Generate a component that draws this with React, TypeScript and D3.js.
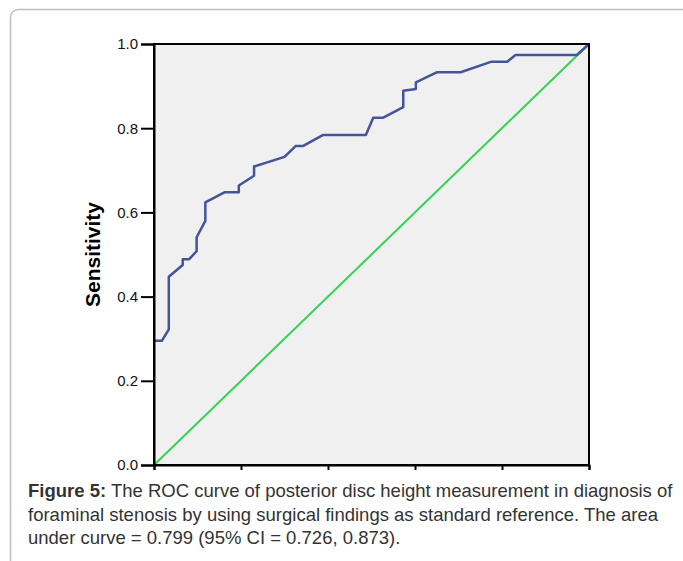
import React, { useEffect, useRef } from 'react';
import * as d3 from 'd3';

// ROC curve points
const fpr = [0, 0.018, 0.034, 0.034, 0.066, 0.066, 0.081, 0.098, 0.098, 0.118, 0.118, 0.163, 0.195, 0.195, 0.23, 0.23, 0.3, 0.326, 0.343, 0.389, 0.487, 0.504, 0.527, 0.573, 0.573, 0.602, 0.602, 0.651, 0.705, 0.776, 0.812, 0.831, 0.972, 1];
const sensitivity = [0.295, 0.295, 0.322, 0.447, 0.475, 0.489, 0.489, 0.508, 0.541, 0.58, 0.624, 0.648, 0.648, 0.664, 0.687, 0.709, 0.732, 0.758, 0.758, 0.784, 0.784, 0.825, 0.825, 0.85, 0.889, 0.893, 0.909, 0.933, 0.933, 0.958, 0.958, 0.974, 0.974, 1];
const referenceLine = [0, 1];
const tickValues = [0, 0.2, 0.4, 0.6, 0.8, 1.0];

const yLabel = 'Sensitivity';
const captionBold = 'Figure 5:';
const captionLines = [
  ' The ROC curve of posterior disc height measurement in diagnosis of',
  'foraminal stenosis by using surgical findings as standard reference. The area',
  'under curve = 0.799 (95% CI = 0.726, 0.873).',
];

const W = 683;
const H = 561;
const font = "Arial, 'Liberation Sans', sans-serif";

export default function App() {
  const svgRef = useRef<SVGSVGElement>(null);

  useEffect(() => {
    const svg = d3.select(svgRef.current);
    svg.selectAll('*').remove();

    const left = 154, right = 589, top = 44, bottom = 465;
    const x = d3.scaleLinear().domain([0, 1]).range([left, right]);
    const y = d3.scaleLinear().domain([0, 1]).range([bottom, top]);

    // outer rounded frame (right and bottom edges fall outside the picture)
    svg.append('rect')
      .attr('x', 10.5).attr('y', 9.5)
      .attr('width', 680).attr('height', 620)
      .attr('rx', 8)
      .attr('fill', 'none')
      .attr('stroke', '#bdbdbd')
      .attr('stroke-width', 1.5);

    svg.append('clipPath').attr('id', 'chartClip')
      .append('rect').attr('x', 0).attr('y', 0).attr('width', W).attr('height', 470);

    const g = svg.append('g').attr('clip-path', 'url(#chartClip)');

    g.append('rect')
      .attr('x', left).attr('y', top)
      .attr('width', right - left).attr('height', bottom - top)
      .attr('fill', '#f0f0f0');

    // reference diagonal
    const diag = d3.line<number>().x(d => x(d)).y(d => y(d));
    g.append('path')
      .attr('d', diag(referenceLine))
      .attr('fill', 'none')
      .attr('stroke', '#33d352')
      .attr('stroke-width', 2);

    // ROC curve
    const pts = fpr.map((f, i) => [f, sensitivity[i]] as [number, number]);
    const line = d3.line<[number, number]>().x(d => x(d[0])).y(d => y(d[1]));
    g.append('path')
      .attr('d', line(pts))
      .attr('fill', 'none')
      .attr('stroke', '#44549b')
      .attr('stroke-width', 2.5)
      .attr('stroke-linejoin', 'round');

    // frame of the plot area
    g.append('rect')
      .attr('x', left).attr('y', top)
      .attr('width', right - left).attr('height', bottom - top)
      .attr('fill', 'none')
      .attr('stroke', '#000')
      .attr('stroke-width', 2);

    const yAxis = d3.axisLeft(y).tickValues(tickValues).tickSize(13).tickPadding(3)
      .tickFormat(d3.format('.1f'));
    const ya = g.append('g').attr('transform', `translate(${left},0)`).call(yAxis);
    ya.select('.domain').attr('stroke-width', 2);
    ya.selectAll('.tick line').attr('stroke-width', 2);
    ya.selectAll('.tick text').attr('font-size', 15).attr('font-family', font).attr('fill', '#111');

    const xAxis = d3.axisBottom(x).tickValues(tickValues).tickSize(6).tickFormat(() => '');
    const xa = g.append('g').attr('transform', `translate(0,${bottom})`).call(xAxis);
    xa.select('.domain').attr('stroke-width', 2);
    xa.selectAll('.tick line').attr('stroke-width', 2);

    g.append('text')
      .attr('transform', `translate(100,${(top + bottom) / 2}) rotate(-90)`)
      .attr('text-anchor', 'middle')
      .attr('font-family', font)
      .attr('font-weight', 'bold')
      .attr('font-size', 21)
      .attr('fill', '#000')
      .text(yLabel);

    // caption
    const cap = svg.append('text')
      .attr('font-family', font)
      .attr('font-size', 18.5)
      .attr('fill', '#333');
    captionLines.forEach((ln, i) => {
      const t = cap.append('tspan').attr('x', 28).attr('y', 497 + i * 23.5);
      if (i === 0) {
        t.append('tspan').attr('font-weight', 'bold').text(captionBold);
        t.append('tspan').text(ln);
      } else {
        t.text(ln);
      }
    });
  }, []);

  return (
    <svg ref={svgRef} width={W} height={H}
      style={{ position: 'absolute', left: 0, top: 0, background: '#fff' }} />
  );
}
